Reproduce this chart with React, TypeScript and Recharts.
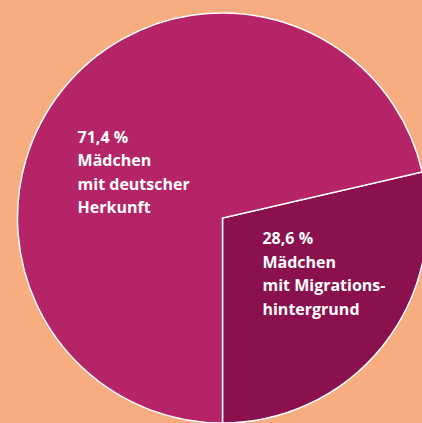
import React from "react";
import { PieChart, Pie, Cell } from "recharts";

const categories = ["Mädchen mit Migrationshintergrund", "Mädchen mit deutscher Herkunft"];
const values = [28.6, 71.4];
const labelLines = [
  ["28,6 %", "Mädchen", "mit Migrations-", "hintergrund"],
  ["71,4 %", "Mädchen", "mit deutscher", "Herkunft"],
];
const colors = ["#8A114D", "#B42466"];

const data = categories.map((name, i) => ({ name, value: values[i] }));

// label anchor offsets relative to the pie centre, as fractions of the radius
const labelOffsets = [
  { dx: 0.195, dy: 0.127 },
  { dx: -0.707, dy: -0.366 },
];

const renderLabel = (props: any) => {
  const { cx, cy, outerRadius, index } = props;
  const off = labelOffsets[index];
  const x = cx + off.dx * outerRadius;
  const y = cy + off.dy * outerRadius;
  return (
    <text
      x={x}
      y={y}
      fill="#FFFFFF"
      textAnchor="start"
      fontFamily="'Open Sans', sans-serif"
      fontWeight={700}
      fontSize={16}
    >
      {labelLines[index].map((line, k) => (
        <tspan key={k} x={x} y={y + k * 23.5}>
          {line}
        </tspan>
      ))}
    </text>
  );
};

export default function App() {
  return (
    <div
      style={{
        position: "absolute",
        left: 0,
        top: 0,
        width: 422,
        height: 423,
        background: "#F8AD80",
        overflow: "hidden",
      }}
    >
      <PieChart width={422} height={423} margin={{ top: 0, right: 0, bottom: 0, left: 0 }}>
        <Pie
          data={data}
          dataKey="value"
          nameKey="name"
          cx={222.5}
          cy={218}
          outerRadius={205}
          startAngle={-90}
          endAngle={270}
          stroke="#FFFFFF"
          strokeWidth={1.5}
          label={renderLabel}
          labelLine={false}
          isAnimationActive={false}
        >
          {data.map((d, i) => (
            <Cell key={d.name} fill={colors[i]} />
          ))}
        </Pie>
      </PieChart>
    </div>
  );
}
